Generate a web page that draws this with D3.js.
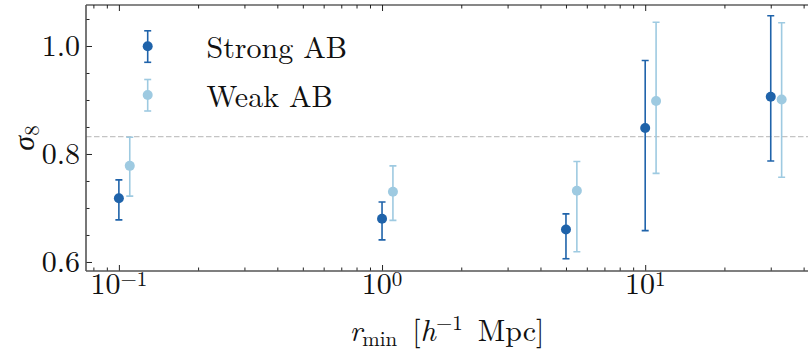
<!DOCTYPE html>
<html>
<head>
<meta charset="utf-8">
<script src="https://cdn.jsdelivr.net/npm/d3@7"></script>
<style>
  html, body { margin: 0; padding: 0; background: #fff; }
  svg { display: block; }
</style>
</head>
<body>
<svg id="chart" width="808" height="351"></svg>
<script>
// Minimum separation r_min [h^-1 Mpc] for each fit
const rmin = [0.1, 1, 5, 10, 30];
const weakShift = 1.1; // weak-AB points drawn slightly to the right

// sigma_8 with lower / upper error bounds
const strongSigma8 = [0.718, 0.680, 0.660, 0.848, 0.906];
const strongLow    = [0.678, 0.641, 0.606, 0.658, 0.787];
const strongHigh   = [0.752, 0.711, 0.689, 0.973, 1.056];

const weakSigma8 = [0.778, 0.730, 0.732, 0.898, 0.901];
const weakLow    = [0.722, 0.677, 0.619, 0.764, 0.757];
const weakHigh   = [0.831, 0.778, 0.786, 1.044, 1.043];

const referenceSigma8 = 0.832;

const seriesNames = ["Strong AB", "Weak AB"];
const seriesColors = ["#1f63aa", "#9ecae1"];

const xMajor = [0.1, 1, 10];
const xMajorExp = ["\u22121", "0", "1"];
const xMinor = [0.08, 0.09, 0.2, 0.3, 0.4, 0.5, 0.6, 0.7, 0.8, 0.9,
                2, 3, 4, 5, 6, 7, 8, 9, 20, 30, 40];
const yMajor = [0.6, 0.8, 1.0];
const yMajorLabels = ["0.6", "0.8", "1.0"];
const yMinor = [0.65, 0.7, 0.75, 0.85, 0.9, 0.95, 1.05];

const FONT = '"Latin Modern Roman", "CMU Serif", "Liberation Serif", serif';
const INK = "#111";

const svg = d3.select("#chart");
const L = 86, R = 809.2, T = 5, B = 271;

const x = d3.scaleLog().domain([0.075, 42]).range([L, R]);
const y = d3.scaleLinear().domain([0.5833, 1.0759]).range([B, T]);

function txt(parent) {
  return parent.append("text").style("font-family", FONT).attr("fill", INK);
}

const plot = svg.append("g");
svg.append("defs").append("clipPath").attr("id", "clip")
  .append("rect").attr("x", L).attr("y", T).attr("width", R - L).attr("height", B - T);

// reference sigma_8 level
plot.append("line")
  .attr("x1", L).attr("x2", R)
  .attr("y1", y(referenceSigma8)).attr("y2", y(referenceSigma8))
  .attr("stroke", "#c4c4c4").attr("stroke-width", 1.3)
  .attr("stroke-dasharray", "5.5,2.5");

const series = [
  { xs: rmin, mid: strongSigma8, lo: strongLow, hi: strongHigh, color: seriesColors[0] },
  { xs: rmin.map(v => v * weakShift), mid: weakSigma8, lo: weakLow, hi: weakHigh, color: seriesColors[1] }
];

const capHalf = 3.5, markerR = 5;

function errorbar(g, cx, cy, yTop, yBot, color) {
  g.append("line").attr("x1", cx).attr("x2", cx).attr("y1", yTop).attr("y2", yBot)
    .attr("stroke", color).attr("stroke-width", 1.6);
  [yTop, yBot].forEach(yy => g.append("line")
    .attr("x1", cx - capHalf).attr("x2", cx + capHalf).attr("y1", yy).attr("y2", yy)
    .attr("stroke", color).attr("stroke-width", 1.6));
  g.append("circle").attr("cx", cx).attr("cy", cy).attr("r", markerR).attr("fill", color);
}

const marks = plot.append("g").attr("clip-path", "url(#clip)");
series.forEach(s => {
  s.xs.forEach((xv, i) => {
    errorbar(marks, x(xv), y(s.mid[i]), y(s.hi[i]), y(s.lo[i]), s.color);
  });
});

// axes: ticks point inward on all four sides
const axes = svg.append("g");
function addAxis(axisFn, scale, values, size, transform) {
  axes.append("g").attr("transform", transform)
    .call(axisFn(scale).tickValues(values).tickSize(size).tickFormat(""))
    .call(g => g.select(".domain").remove())
    .call(g => g.selectAll(".tick line").attr("stroke", "#222").attr("stroke-width", 1));
}
addAxis(d3.axisBottom, x, xMajor, -6, `translate(0,${B})`);
addAxis(d3.axisBottom, x, xMinor, -3.5, `translate(0,${B})`);
addAxis(d3.axisTop, x, xMajor, -6, `translate(0,${T})`);
addAxis(d3.axisTop, x, xMinor, -3.5, `translate(0,${T})`);
addAxis(d3.axisLeft, y, yMajor, -6, `translate(${L},0)`);
addAxis(d3.axisLeft, y, yMinor, -3.5, `translate(${L},0)`);

// frame
axes.append("line").attr("x1", L).attr("x2", R).attr("y1", T).attr("y2", T)
  .attr("stroke", "#111").attr("stroke-width", 1.2);
axes.append("line").attr("x1", L).attr("x2", R).attr("y1", B).attr("y2", B)
  .attr("stroke", "#555").attr("stroke-width", 1.6);
axes.append("line").attr("x1", L).attr("x2", L).attr("y1", T).attr("y2", B)
  .attr("stroke", "#555").attr("stroke-width", 1.6);
axes.append("line").attr("x1", R).attr("x2", R).attr("y1", T).attr("y2", B)
  .attr("stroke", "#555").attr("stroke-width", 1.6);

// y tick labels
yMajor.forEach((v, i) => {
  txt(svg).attr("x", 80).attr("y", y(v) + 10.5)
    .attr("text-anchor", "end").attr("font-size", 30).text(yMajorLabels[i]);
});

// x tick labels as powers of ten
xMajor.forEach((v, i) => {
  const t = txt(svg).attr("x", x(v)).attr("y", 294)
    .attr("text-anchor", "middle").attr("font-size", 30);
  t.append("tspan").text("10");
  t.append("tspan").attr("font-size", 21).attr("dy", -8).text(xMajorExp[i]);
});

// x axis title: r_min [h^-1 Mpc]
const xt = txt(svg).attr("x", (L + 808) / 2).attr("y", 341)
  .attr("text-anchor", "middle").attr("font-size", 30);
xt.append("tspan").attr("font-style", "italic").text("r");
xt.append("tspan").attr("font-size", 21).attr("dy", 5).text("min");
xt.append("tspan").attr("dy", -5).text("\u00a0[");
xt.append("tspan").attr("font-style", "italic").text("h");
xt.append("tspan").attr("font-size", 21).attr("dy", -11).text("\u22121");
xt.append("tspan").attr("dy", 11).text("\u00a0Mpc]");

// y axis title: sigma_8
const yt = txt(svg)
  .attr("transform", `translate(34,${(T + B) / 2}) rotate(-90)`)
  .attr("text-anchor", "middle").attr("font-size", 30);
yt.append("tspan").attr("font-style", "italic").text("\u03c3");
yt.append("tspan").attr("font-size", 21).attr("dy", 5).text("8");

// legend
const legend = svg.append("g");
seriesNames.forEach((name, i) => {
  const cy = 46.3 + i * 48.7;
  errorbar(legend, 147.7, cy, cy - 15.5, cy + 16, seriesColors[i]);
  txt(legend).attr("x", 206.5).attr("y", cy + 12)
    .attr("font-size", 30).text(name);
});
</script>
</body>
</html>
